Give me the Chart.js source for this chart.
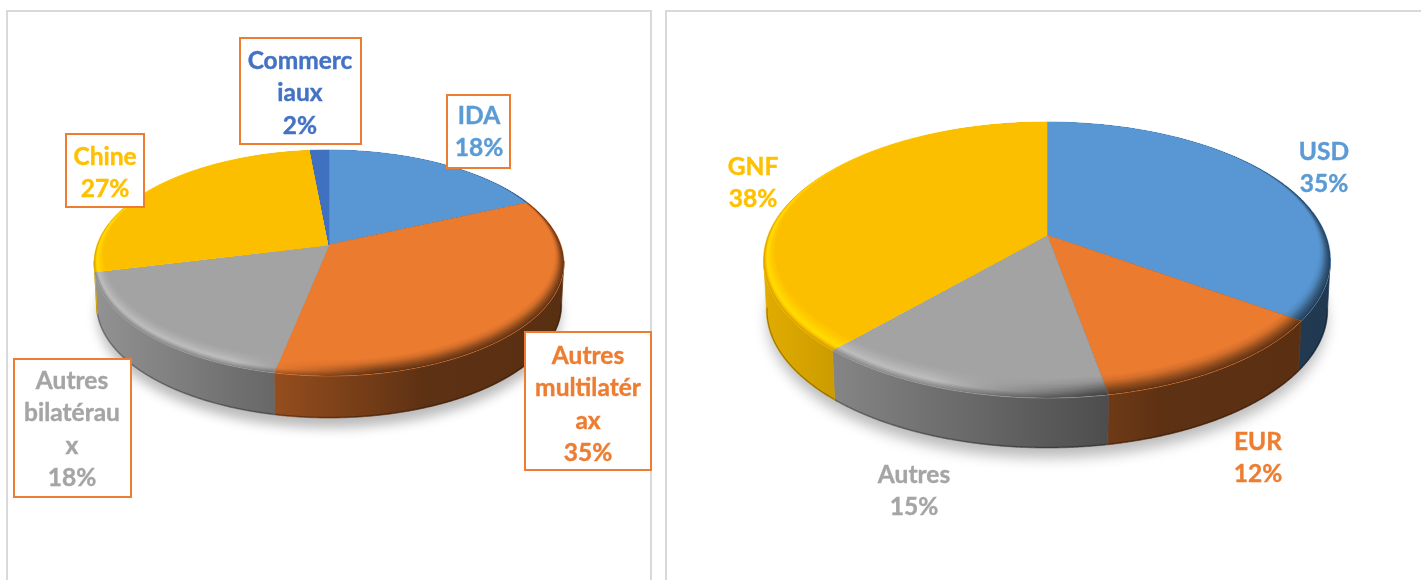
<!DOCTYPE html>
<html><head><meta charset="utf-8">
<style>
html,body{margin:0;padding:0;background:#fff;width:1421px;height:580px;overflow:hidden}
.panel{position:absolute;top:10px;height:590px;border:2px solid #d9d9d9;box-sizing:border-box;background:#fff}
canvas{position:absolute;top:0}
</style>
<script src="https://cdn.jsdelivr.net/npm/chart.js@4"></script>
</head><body>
<div class="panel" style="left:6px;width:646px"></div>
<div class="panel" style="left:665px;width:756px;border-right:none"></div>
<canvas id="debt" width="658" height="580" style="left:0"></canvas>
<canvas id="curr" width="763" height="580" style="left:658px"></canvas>
<script>
// ---- data ----
const debtCategories = ['IDA', 'Autres multilatéraux', 'Autres bilatéraux', 'Chine', 'Commerciaux'];
const debtValues = [18.3, 34.9, 18.0, 27.3, 1.5];
const debtLabelLines = [['IDA'], ['Autres', 'multilatér', 'ax'], ['Autres', 'bilatérau', 'x'], ['Chine'], ['Commerc', 'iaux']];
const currCategories = ['USD', 'EUR', 'Autres', 'GNF'];
const currValues = [34.8, 12.3, 14.5, 38.4];
const currLabelLines = [['USD'], ['EUR'], ['Autres'], ['GNF']];
const debtColors = ['#5897D3', '#EB7B2F', '#A3A3A3', '#FBBF00', '#4070C0'];
const currColors = ['#5897D3', '#EB7B2F', '#A3A3A3', '#FBBF00'];
const debtTextColors = ['#5B9BD5', '#ED7D31', '#A5A5A5', '#FFC000', '#4472C4'];
const currTextColors = ['#5B9BD5', '#ED7D31', '#A5A5A5', '#FFC000'];

// ---- layout (label centre x, first-line centre y, optional box) ----
const debtLabelPos = [
  {x:479, y:116, box:[447,95,63,73]},
  {x:588, y:356, box:[525,332,126,138]},
  {x:72,  y:381, box:[14,359,117,138]},
  {x:105, y:157, box:[66,134,78,73]},
  {x:300, y:61,  box:[240,38,121,106]}
];
const currLabelPos = [
  {x:666, y:152},
  {x:600, y:442},
  {x:256, y:475},
  {x:95,  y:167}
];
const LINE = 32.3;

function rgb(hex){return [1,3,5].map(i=>parseInt(hex.substr(i,2),16));}
function shade(hex,f){return 'rgb('+rgb(hex).map(c=>Math.min(255,Math.round(c*f))).join(',')+')';}
function interp(stops,u){
  if(u<=stops[0][0])return stops[0][1];
  for(let i=1;i<stops.length;i++){
    if(u<=stops[i][0]){const a=stops[i-1],b=stops[i];return a[1]+(b[1]-a[1])*(u-a[0])/(b[0]-a[0]);}
  }
  return stops[stops.length-1][1];
}
const wallStops=[[-1,.9],[-.23,.63],[.22,.47],[.4,.4],[1,.38]];
const STOPS_U=[-1,-.4,-.2,0,.2,1];
function bevelF(t,u){
  const left=interp([[0,.85],[.3,1.16],[.7,1.05],[1,1]],t);
  const right=interp([[0,.42],[.3,.6],[.7,.9],[1,1]],t);
  const m=Math.max(0,Math.min(1,(u+.4)/.6));
  return left+(right-left)*m;
}

const pie3d={
  id:'pie3d',
  beforeDatasetDraw(chart,args,opts){
    const ctx=chart.ctx, arcs=chart.getDatasetMeta(0).data, ds=chart.data.datasets[0];
    const cx=arcs[0].x, cy=arcs[0].y, rx=arcs[0].outerRadius;
    const ry=opts.ry, k=opts.k, h=opts.wall, s=Math.sqrt(1-k*k);
    const proj=a=>{
      const X=Math.cos(a),Y=Math.sin(a),d=1+k*Y;
      return [s*X/d,(Y+k)/d];
    };
    const grad=(fn)=>{
      const g=ctx.createLinearGradient(cx-rx,0,cx+rx,0);
      fn(g);return g;
    };
    // soft shadow
    ctx.save();
    ctx.shadowColor='rgba(0,0,0,0.27)';ctx.shadowBlur=opts.blur;ctx.shadowOffsetY=10;
    ctx.fillStyle='#fff';
    ctx.beginPath();ctx.ellipse(cx,cy+h,rx*.985,ry,0,0,Math.PI*2);ctx.fill();
    ctx.restore();
    // side walls
    arcs.forEach((el,i)=>{
      const base=ds.backgroundColor[i],pts=[];
      const n=Math.max(4,Math.ceil((el.endAngle-el.startAngle)/.004));
      for(let j=0;j<=n;j++){
        const p=proj(el.startAngle+(el.endAngle-el.startAngle)*j/n);
        if(p[1]>=-0.02)pts.push(p);
      }
      if(pts.length<2)return;
      ctx.save();
      ctx.beginPath();
      pts.forEach((p,j)=>{const x=cx+rx*p[0],y=cy+ry*p[1];j?ctx.lineTo(x,y):ctx.moveTo(x,y);});
      pts.slice().reverse().forEach(p=>ctx.lineTo(cx+rx*p[0]*.99,cy+ry*p[1]+h));
      ctx.closePath();
      const wallFill=grad(g=>{
        for(let u=-1;u<=1.001;u+=.1)g.addColorStop(Math.min(1,(u+1)/2),shade(base,interp(wallStops,u)));
      });
      ctx.fillStyle=wallFill;ctx.strokeStyle=wallFill;ctx.lineWidth=.7;
      ctx.fill();ctx.stroke();
      ctx.clip();
      ctx.beginPath();
      pts.forEach((p,j)=>{const x=cx+rx*p[0]*.99,y=cy+ry*p[1]+h;j?ctx.lineTo(x,y):ctx.moveTo(x,y);});
      ctx.strokeStyle='rgba(0,0,0,0.28)';ctx.lineWidth=2.5;ctx.stroke();
      ctx.restore();
    });
    // top faces with bevel
    const apexY=cy+ry*k;
    const dx=rx*.04,dy=ry*.07,N=14;
    arcs.forEach((el,i)=>{
      const base=ds.backgroundColor[i];
      const n=Math.max(4,Math.ceil((el.endAngle-el.startAngle)/.01));
      ctx.save();
      ctx.beginPath();ctx.moveTo(cx,apexY);
      for(let j=0;j<=n;j++){
        const p=proj(el.startAngle+(el.endAngle-el.startAngle)*j/n);
        ctx.lineTo(cx+rx*p[0],cy+ry*p[1]);
      }
      ctx.closePath();
      ctx.fillStyle=base;ctx.strokeStyle=base;ctx.lineWidth=.6;
      ctx.fill();ctx.stroke();
      ctx.clip();
      for(let r=0;r<=N;r++){
        const t=r/N;
        ctx.fillStyle=grad(g=>{
          STOPS_U.forEach(u=>g.addColorStop((u+1)/2,shade(base,bevelF(t,u))));
        });
        ctx.beginPath();
        ctx.ellipse(cx,cy-dy*t,rx-dx*t,ry-dy*t,0,0,Math.PI*2);
        ctx.fill();
      }
      ctx.restore();
    });
    return false;
  },
  afterDraw(chart,args,opts){
    const ctx=chart.ctx,ds=chart.data.datasets[0];
    opts.pos.forEach((pos,i)=>{
      if(pos.box){
        ctx.fillStyle='#fff';ctx.strokeStyle='#ED7D31';ctx.lineWidth=2;
        ctx.fillRect(pos.box[0],pos.box[1],pos.box[2],pos.box[3]);
        ctx.strokeRect(pos.box[0],pos.box[1],pos.box[2],pos.box[3]);
      }
      const lines=opts.lines[i].concat(Math.round(ds.data[i])+'%');
      ctx.font='bold 24.5px Lato';ctx.textAlign='center';ctx.textBaseline='middle';
      ctx.fillStyle=opts.colors[i];ctx.strokeStyle=opts.colors[i];ctx.lineWidth=.4;
      lines.forEach((l,j)=>{ctx.fillText(l,pos.x,pos.y+j*LINE);ctx.strokeText(l,pos.x,pos.y+j*LINE);});
    });
  }
};

function make(id,cats,vals,cols,radius,padding,p){
  return new Chart(document.getElementById(id),{
    type:'pie',
    data:{labels:cats,datasets:[{data:vals,backgroundColor:cols,borderWidth:0,radius:radius}]},
    plugins:[pie3d],
    options:{responsive:false,animation:false,rotation:0,layout:{padding:padding},
      plugins:{legend:{display:false},tooltip:{enabled:false},pie3d:p}}
  });
}
make('debt',debtCategories,debtValues,debtColors,235,{left:94,right:94,top:0,bottom:54},
  {ry:113,k:-0.16,wall:42,blur:12,pos:debtLabelPos,lines:debtLabelLines,colors:debtTextColors});
make('curr',currCategories,currValues,currColors,283.5,{left:105.5,right:90.5,top:0,bottom:60},
  {ry:138,k:-0.18,wall:50,blur:14,pos:currLabelPos,lines:currLabelLines,colors:currTextColors});
</script>
</body></html>
